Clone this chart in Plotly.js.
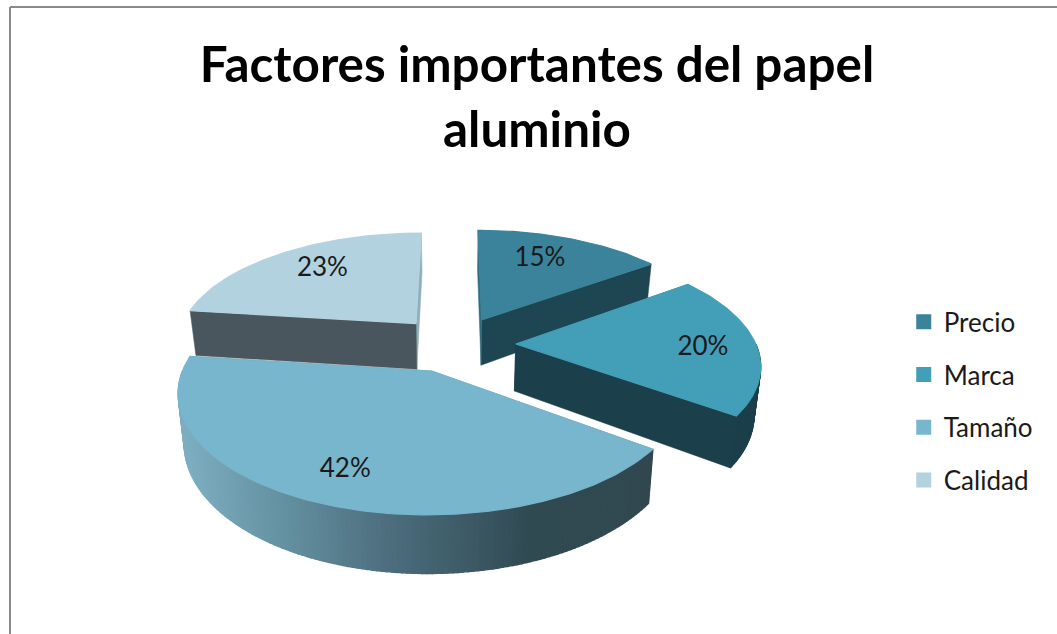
<!DOCTYPE html>
<html>
<head>
<meta charset="utf-8">
<script src="https://cdn.plot.ly/plotly-3.0.1.min.js"></script>
<style>html,body{margin:0;padding:0;background:#fff}#chart{width:1057px;height:634px}</style>
</head>
<body>
<div id="chart"></div>
<script>
// Survey shares for the exploded pie
const categories = ['Precio', 'Marca', 'Tamaño', 'Calidad'];
const shares = [15, 20, 42, 23];

// Slice colours: top face and legend swatch, then the two radial cut faces
const topColors = ['#3A839B', '#439EB8', '#78B6CE', '#B3D2DF'];
const startCutColors = ['#2E6C80', '#1B3F4B', '#33494F', '#4A565D'];
const endCutColors = ['#1D4552', '#1B3F4B', '#33494F', '#8FAEBB'];
const wallColors = ['#1D4552', '#1B3F4B', '#33494F', '#4A565D'];

// Shading of the front wall of the large slice, keyed by horizontal position
const wallStops = [[185, [124, 174, 192]], [290, [98, 142, 158]], [380, [78, 112, 128]], [530, [48, 74, 82]], [660, [50, 72, 80]]];

// Hand placement of the percentage labels relative to their radial anchor
const labelNudge = [[-9, 1], [12, 4], [-8, 8], [7, -1]];

const chartTitle = 'Factores importantes del papel<br>aluminio';
const fontFamily = 'Lato, "Open Sans", sans-serif';

// Projection of the tilted pie onto the page
const view = { cx: 455, cy: 344, rx: 240, ry: 111, tilt: 0.16, depth: 47, taper: 0.022, explode: 0.253, labelAt: 0.73 };

function project(X, Z, down) {
  const w = 1 / (1 - view.tilt * Z);
  const x = view.rx * X * w;
  return [view.cx + (down ? x * (1 - view.taper) : x), view.cy + view.ry * Z * w + (down ? view.depth * w : 0)];
}

// Ground-plane point of a slice at radius r and clockwise angle a (radians from north)
function ground(midAngle, r, a) {
  return [
    view.explode * Math.sin(midAngle) + r * Math.sin(a),
    -view.explode * Math.cos(midAngle) - r * Math.cos(a)
  ];
}

function polygon(points, color, width) {
  return {
    type: 'scatter', mode: 'lines', fill: 'toself', fillcolor: color,
    x: points.map(p => p[0]), y: points.map(p => p[1]),
    line: { color: color, width: width }, hoverinfo: 'skip', showlegend: false
  };
}

function wallColor(x, fallback, useStops) {
  if (!useStops) return fallback;
  const s = wallStops;
  if (x <= s[0][0]) return 'rgb(' + s[0][1].join(',') + ')';
  for (let i = 1; i < s.length; i++) {
    if (x <= s[i][0]) {
      const t = (x - s[i - 1][0]) / (s[i][0] - s[i - 1][0]);
      const c = s[i][1].map((v, k) => Math.round(s[i - 1][1][k] + (v - s[i - 1][1][k]) * t));
      return 'rgb(' + c.join(',') + ')';
    }
  }
  return 'rgb(' + s[s.length - 1][1].join(',') + ')';
}

const traces = [];
const labelX = [], labelY = [], labelText = [];
const total = shares.reduce((a, b) => a + b, 0);

const angles = [];
let running = 0;
shares.forEach(v => {
  angles.push([running / total * 2 * Math.PI, (running + v) / total * 2 * Math.PI]);
  running += v;
});

// Back slices first so the nearer ones cover them
[3, 0, 1, 2].forEach(i => {
  const [a0, a1] = angles[i];
  const mid = (a0 + a1) / 2;
  const apex = ground(mid, 0, 0);
  const arc = [];
  const steps = Math.max(6, Math.round((a1 - a0) / (Math.PI / 180)));
  for (let k = 0; k <= steps; k++) arc.push(a0 + (a1 - a0) * k / steps);
  const edge = a => ground(mid, 1, a);

  // Radial cut faces
  [[a1, endCutColors[i]], [a0, startCutColors[i]]].forEach(([a, color]) => {
    const e = edge(a);
    traces.push(polygon([
      project(apex[0], apex[1], false), project(e[0], e[1], false),
      project(e[0], e[1], true), project(apex[0], apex[1], true), project(apex[0], apex[1], false)
    ], color, 0.5));
  });

  // Outer wall, split into strips so it can carry shading; only the near side shows
  for (let k = 0; k < steps; k++) {
    if (Math.cos((arc[k] + arc[k + 1]) / 2) > 0) continue;
    const p = edge(arc[k]), q = edge(arc[k + 1]);
    const a = project(p[0], p[1], false), b = project(q[0], q[1], false);
    const c = project(q[0], q[1], true), d = project(p[0], p[1], true);
    traces.push(polygon([a, b, c, d, a], wallColor((a[0] + b[0]) / 2, wallColors[i], i === 2), 1.4));
  }

  // Top face
  const top = [project(apex[0], apex[1], false)];
  arc.forEach(a => { const e = edge(a); top.push(project(e[0], e[1], false)); });
  top.push(top[0]);
  traces.push(polygon(top, topColors[i], 1.2));

  const l = ground(mid, view.labelAt, mid);
  const lp = project(l[0], l[1], false);
  labelX.push(lp[0] + labelNudge[i][0]);
  labelY.push(lp[1] + labelNudge[i][1]);
  labelText.push(shares[i] + '%');
});

traces.push({
  type: 'scatter', mode: 'text', x: labelX, y: labelY, text: labelText,
  textposition: 'middle center', textfont: { family: fontFamily, size: 26, color: '#1a1a1a' },
  hoverinfo: 'skip', showlegend: false
});

// Legend entries
categories.forEach((name, i) => {
  traces.push({
    type: 'scatter', mode: 'markers', x: [null], y: [null], name: name, legendgroup: name,
    marker: { symbol: 'square', size: 15, color: topColors[i] }, hoverinfo: 'skip'
  });
});

const hidden = { visible: false, fixedrange: true };
const layout = {
  width: 1057, height: 634,
  margin: { l: 0, r: 0, t: 0, b: 0 },
  paper_bgcolor: '#ffffff', plot_bgcolor: '#ffffff',
  title: {
    text: chartTitle, x: 537 / 1057, xanchor: 'center', y: 0.87, yanchor: 'bottom',
    font: { family: fontFamily, size: 49.4, color: '#000000', weight: 700 }
  },
  xaxis: Object.assign({ range: [0, 1057] }, hidden),
  yaxis: Object.assign({ range: [634, 0] }, hidden),
  legend: {
    x: 0.855, xanchor: 'left', y: 0.367, yanchor: 'middle',
    tracegroupgap: 16, itemclick: false, itemdoubleclick: false,
    font: { family: fontFamily, size: 26, color: '#1a1a1a' }, bgcolor: 'rgba(0,0,0,0)'
  },
  shapes: [
    { type: 'line', xref: 'paper', yref: 'paper', x0: 10 / 1057, x1: 1, y0: 1 - 7 / 634, y1: 1 - 7 / 634, line: { color: '#8a8a8a', width: 2 } },
    { type: 'line', xref: 'paper', yref: 'paper', x0: 10 / 1057, x1: 10 / 1057, y0: 0, y1: 1 - 7 / 634, line: { color: '#8a8a8a', width: 2 } }
  ],
  showlegend: true
};

Plotly.newPlot('chart', traces, layout, { displayModeBar: false });
</script>
</body>
</html>
